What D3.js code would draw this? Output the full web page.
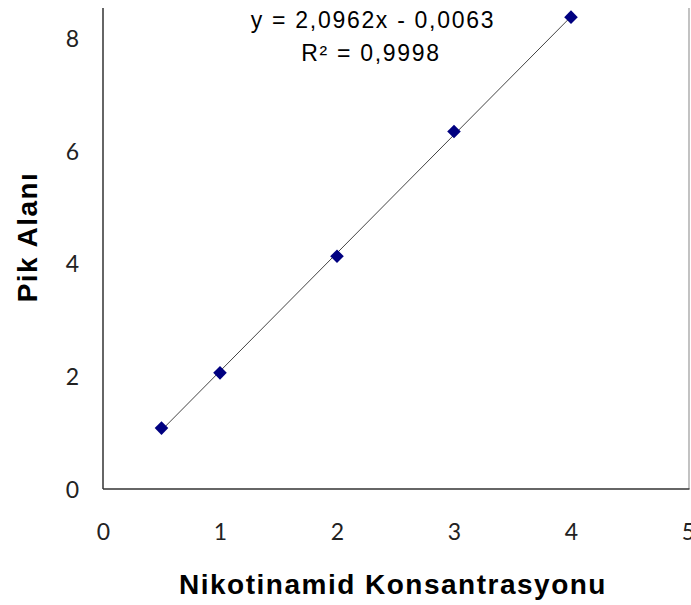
<!DOCTYPE html>
<html>
<head>
<meta charset="utf-8">
<script src="https://cdn.jsdelivr.net/npm/d3@7"></script>
<style>
html,body{margin:0;padding:0;background:#fff;}
svg{display:block;}
</style>
</head>
<body>
<svg id="chart" width="691" height="605"></svg>
<script>
const concentrations = [0.5, 1, 2, 3, 4];
const peakAreas = [1.08, 2.06, 4.13, 6.34, 8.37];
const xTicks = [0, 1, 2, 3, 4, 5];
const yTicks = [0, 2, 4, 6, 8];
const slope = 2.0962;
const intercept = -0.0063;
const equationText = "y = 2,0962x - 0,0063";
const r2Text = "R² = 0,9998";
const xTitle = "Nikotinamid Konsantrasyonu";
const yTitle = "Pik Alanı";

const svg = d3.select("#chart");
const x = d3.scaleLinear().domain([0, 5]).range([103, 688]);
const y = d3.scaleLinear().domain([0, 8]).range([489, 38]);
const yTop = 8.53;

// plot frame: left & bottom dark, right light
svg.append("line").attr("x1", x(5) + 1).attr("x2", x(5) + 1).attr("y1", y(yTop)).attr("y2", y(0))
  .attr("stroke", "#9a9a9a").attr("stroke-width", 1.2);
svg.append("line").attr("x1", x(0)).attr("x2", x(0)).attr("y1", y(yTop)).attr("y2", y(0))
  .attr("stroke", "#333").attr("stroke-width", 1.5);
svg.append("line").attr("x1", x(0)).attr("x2", x(5) + 1.5).attr("y1", y(0)).attr("y2", y(0))
  .attr("stroke", "#333").attr("stroke-width", 1.5);

const tickFont = "Lato, 'Open Sans', sans-serif";

// axes via d3 axis generators (no tick lines, no domain)
const xAxis = d3.axisBottom(x).tickValues(xTicks).tickFormat(d3.format("d")).tickSize(0).tickPadding(0);
const gx = svg.append("g").attr("transform", `translate(0,${y(0)})`).call(xAxis);
gx.select(".domain").remove();
gx.selectAll("text").attr("y", 51).attr("dy", 0)
  .attr("font-family", tickFont).attr("font-size", 23).attr("fill", "#222");

const yAxis = d3.axisLeft(y).tickValues(yTicks).tickFormat(d3.format("d")).tickSize(0).tickPadding(0);
const gy = svg.append("g").attr("transform", `translate(${x(0)},0)`).call(yAxis);
gy.select(".domain").remove();
gy.selectAll("text").attr("x", -24).attr("dy", "0.36em")
  .attr("font-family", tickFont).attr("font-size", 23).attr("fill", "#222");

// trendline
const xMin = d3.min(concentrations), xMax = d3.max(concentrations);
svg.append("line")
  .attr("x1", x(xMin)).attr("y1", y(slope * xMin + intercept))
  .attr("x2", x(xMax)).attr("y2", y(slope * xMax + intercept))
  .attr("stroke", "#444").attr("stroke-width", 1);

// markers
const diamond = d3.symbol().type(d3.symbolSquare).size(92);
svg.append("g").selectAll("path").data(concentrations).join("path")
  .attr("d", diamond)
  .attr("transform", (d, i) => `translate(${x(d)},${y(peakAreas[i])}) rotate(45)`)
  .attr("fill", "#000080");

// equation text
svg.append("text").attr("x", 373).attr("y", 28).attr("text-anchor", "middle")
  .attr("font-family", "Arial, 'Liberation Sans', sans-serif").attr("font-size", 23)
  .attr("letter-spacing", 1.7).attr("fill", "#000").text(equationText);
svg.append("text").attr("x", 371).attr("y", 61).attr("text-anchor", "middle")
  .attr("font-family", "Arial, 'Liberation Sans', sans-serif").attr("font-size", 23)
  .attr("letter-spacing", 1.7).attr("fill", "#000").text(r2Text);

// axis titles
svg.append("text").attr("x", 393).attr("y", 594).attr("text-anchor", "middle")
  .attr("font-family", "Arial, 'Liberation Sans', sans-serif").attr("font-weight", "bold")
  .attr("font-size", 28).attr("letter-spacing", 1.5).attr("fill", "#000").text(xTitle);
svg.append("text").attr("transform", "translate(37,237) rotate(-90)").attr("text-anchor", "middle")
  .attr("font-family", "Arial, 'Liberation Sans', sans-serif").attr("font-weight", "bold")
  .attr("font-size", 28).attr("letter-spacing", 1.5).attr("fill", "#000").text(yTitle);
</script>
</body>
</html>
